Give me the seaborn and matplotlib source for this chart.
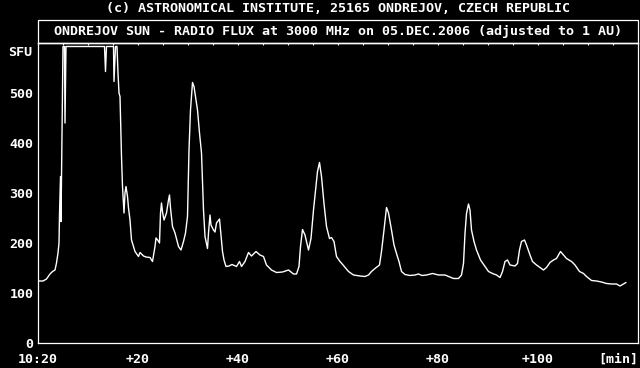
import matplotlib
matplotlib.use("Agg")
import matplotlib.pyplot as plt
import matplotlib.transforms as mtransforms
from matplotlib.patches import Rectangle
from matplotlib.ticker import MultipleLocator
import seaborn as sns
import pandas as pd

# ---- data (minutes after 10:20 UT, flux in SFU; saturated part shown at 593) ----
minutes = [0.0, 1.0, 1.7, 2.4, 2.9, 3.4, 3.7, 4.0, 4.2, 4.3, 4.5, 4.6, 4.8, 5.0,
           5.3, 5.4, 5.6, 13.3, 13.5, 13.7, 15.1, 15.2, 15.5, 15.8, 16.0, 16.2,
           16.4, 16.7, 16.9, 17.2, 17.4, 17.6, 17.9, 18.1, 18.4, 18.7, 19.4, 20.1,
           20.4, 21.1, 21.6, 22.4, 22.9, 23.4, 23.6, 24.0, 24.3, 24.5, 24.7, 24.9,
           25.2, 25.7, 26.1, 26.3, 26.5, 26.9, 27.4, 28.1, 28.6, 29.1, 29.5, 29.9,
           30.2, 30.5, 30.9, 31.2, 31.5, 31.9, 32.3, 32.7, 33.1, 33.4, 33.9, 34.1,
           34.4, 34.6, 35.1, 35.4, 35.7, 36.3, 36.5, 36.9, 37.2, 37.6, 38.2, 38.8,
           39.7, 40.3, 40.7, 41.4, 42.1, 42.7, 43.6, 44.4, 45.1, 45.7, 46.7, 47.7,
           48.9, 50.1, 51.1, 51.7, 52.2, 52.5, 52.9, 53.4, 54.1, 54.6, 55.1, 55.6,
           55.9, 56.3, 56.7, 57.2, 57.7, 58.3, 58.7, 59.2, 59.7, 60.4, 61.1, 62.1,
           63.1, 64.4, 65.4, 66.1, 66.7, 67.4, 68.3, 68.7, 69.2, 69.7, 70.1, 70.7,
           71.2, 71.7, 72.2, 72.7, 73.4, 74.4, 75.4, 76.1, 76.8, 77.7, 78.9, 80.1,
           81.4, 82.4, 83.1, 84.1, 84.7, 85.1, 85.4, 85.7, 86.1, 86.4, 86.7, 87.2,
           87.7, 88.5, 89.4, 90.1, 90.9, 91.7, 92.4, 92.9, 93.4, 93.9, 94.4, 95.4,
           95.9, 96.3, 96.7, 97.3, 97.7, 98.4, 98.9, 99.7, 100.4, 101.1, 101.7,
           102.4, 103.1, 103.7, 104.1, 104.5, 105.1, 105.7, 106.7, 107.4, 108.3,
           109.1, 109.7, 110.7, 111.7, 112.7, 113.7, 114.7, 115.7, 116.4, 117.1,
           117.6]
sfu = [124, 124, 128, 138, 143, 146, 160, 180, 200, 256, 333, 243, 420, 593,
       593, 440, 593, 593, 543, 593, 593, 523, 593, 593, 540, 500,
       493, 373, 313, 260, 300, 313, 293, 270, 246, 206, 183, 173,
       181, 174, 172, 171, 163, 193, 210, 205, 200, 260, 280, 262,
       246, 260, 286, 296, 270, 233, 220, 193, 186, 203, 220, 253,
       386, 466, 521, 513, 493, 466, 420, 380, 266, 213, 189, 220,
       256, 236, 226, 222, 240, 248, 226, 183, 166, 153, 154, 157,
       153, 163, 153, 163, 181, 174, 183, 176, 173, 156, 146, 141,
       142, 146, 138, 138, 153, 193, 227, 216, 186, 209, 266, 313,
       343, 361, 333, 279, 233, 209, 211, 203, 173, 163, 155, 143,
       136, 134, 133, 136, 143, 149, 156, 183, 226, 271, 260, 226,
       196, 179, 163, 143, 137, 135, 136, 138, 135, 136, 139, 136,
       136, 132, 129, 129, 136, 159, 219, 259, 278, 266, 226, 203,
       186, 166, 153, 143, 139, 136, 131, 143, 163, 166, 156, 154,
       159, 186, 203, 206, 196, 176, 163, 156, 151, 146, 151,
       161, 166, 169, 176, 183, 176, 169, 163, 156, 143,
       139, 133, 125, 124, 122, 119, 118, 118, 114, 118,
       121]

x_tick_pos = [0, 20, 40, 60, 80, 100, 120]
x_tick_labels = ["10:20", "+20", "+40", "+60", "+80", "+100", ""]
y_tick_pos = [0, 100, 200, 300, 400, 500]
y_tick_labels = ["0", "100", "200", "300", "400", "500"]
y_unit = "SFU"
x_unit = "[min]"
header = "(c) ASTRONOMICAL INSTITUTE, 25165 ONDREJOV, CZECH REPUBLIC"
title = "ONDREJOV SUN - RADIO FLUX at 3000 MHz on 05.DEC.2006 (adjusted to 1 AU)"

sns.set_theme(style="dark", rc={
    "axes.facecolor": "black", "figure.facecolor": "black",
    "axes.edgecolor": "white", "text.color": "white",
    "xtick.color": "white", "ytick.color": "white",
    "axes.grid": False,
})
plt.rcParams["font.family"] = ["DejaVu Sans Mono"]
plt.rcParams["font.weight"] = "bold"
FS = 9.6

W, H = 640, 368
fig = plt.figure(figsize=(6.4, 3.68), dpi=100)
ax = fig.add_axes([38 / W, 1 - 343 / H, 600 / W, 300 / H])

df = pd.DataFrame({"minute": minutes, "flux": sfu})
sns.lineplot(data=df, x="minute", y="flux", ax=ax, color="white",
             linewidth=1.0, estimator=None, sort=False)

ax.set_xlim(0, 120)
ax.set_ylim(0, 600)
ax.set_xlabel("")
ax.set_ylabel("")
for s in ax.spines.values():
    s.set_color("white")
    s.set_linewidth(0.9)

ax.set_xticks(x_tick_pos)
ax.set_xticklabels(x_tick_labels, fontsize=FS, fontweight="bold", color="white")
ax.set_yticks(y_tick_pos)
ax.set_yticklabels(y_tick_labels, fontsize=FS, fontweight="bold", color="white")
ax.xaxis.set_minor_locator(MultipleLocator(5))
ax.yaxis.set_minor_locator(MultipleLocator(20))
ax.tick_params(axis="x", which="major", direction="out", length=2.4, width=1.6,
               color="white", pad=4.5, top=False)
ax.tick_params(axis="x", which="minor", direction="out", length=1.5, width=0.8,
               color="white", top=False)
ax.tick_params(axis="y", which="major", direction="out", length=2.2, width=1.5,
               color="white", pad=1.2, right=False)
ax.tick_params(axis="y", which="minor", direction="out", length=0.9, width=0.8,
               color="white", right=False)

# inward ticks along the top frame
sec = ax.secondary_xaxis("top")
sec.xaxis.set_major_locator(MultipleLocator(5))
sec.tick_params(axis="x", which="major", direction="in", length=1.5, width=0.8,
                color="white", labeltop=False)
sec.spines["top"].set_color("white")
sec.spines["top"].set_linewidth(0.9)

# unit labels
tr = mtransforms.blended_transform_factory(ax.transAxes, ax.transData)
ax.text(-0.0105, 580, y_unit, transform=tr, ha="right", va="center",
        fontsize=FS, fontweight="bold", color="white")
ax.text(1.0, -16 / 300 * 600 * 1.0, x_unit, transform=tr, ha="right", va="center",
        fontsize=FS, fontweight="bold", color="white")

# title box and header
fig.patches.append(Rectangle((38 / W, 1 - 43 / H), 600 / W, 23 / H,
                             transform=fig.transFigure, fill=False,
                             edgecolor="white", linewidth=0.9))
fig.text(338 / W, 1 - 9 / H, header, ha="center", va="center",
         fontsize=FS, fontweight="bold", color="white")
fig.text(338 / W, 1 - 31.5 / H, title, ha="center", va="center",
         fontsize=FS, fontweight="bold", color="white")

fig.savefig("out.png", dpi=100, facecolor="black")
